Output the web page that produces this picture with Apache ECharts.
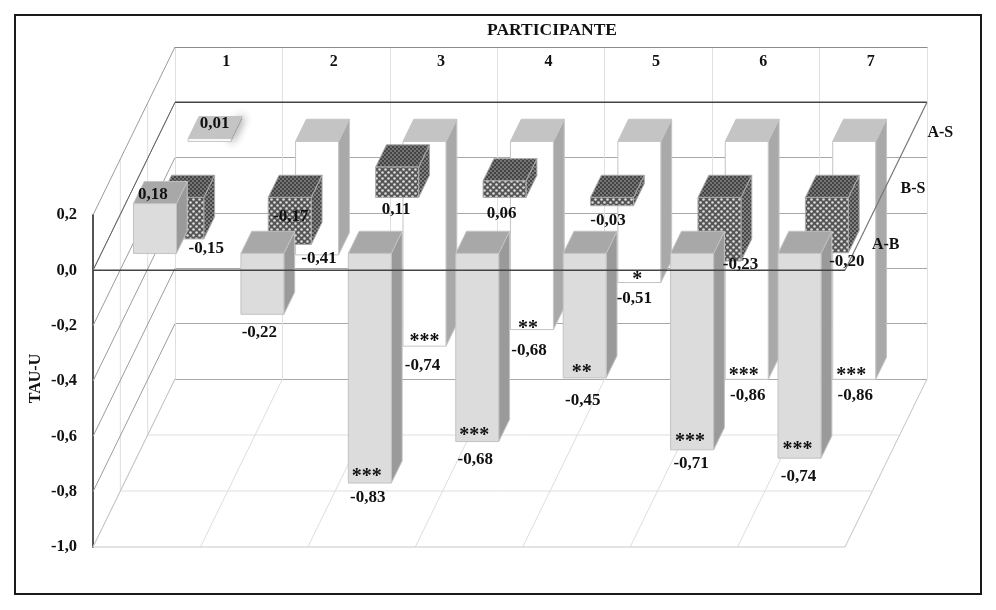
<!DOCTYPE html>
<html><head><meta charset="utf-8">
<script src="https://cdn.jsdelivr.net/npm/echarts@6/dist/echarts.min.js"></script>
<style>html,body{margin:0;padding:0;background:#fff}#c{width:996px;height:610px}</style>
</head><body><div id="c"></div>
<script>
// ---- data ----
const categories = ['1','2','3','4','5','6','7'];
const tickLabels = ['-1,0','-0,8','-0,6','-0,4','-0,2','0,0','0,2'];
const tickValues = [-1,-0.8,-0.6,-0.4,-0.2,0,0.2];
const rowNames = ['A-B','B-S','A-S'];
const valuesAB = [0.18,-0.22,-0.83,-0.68,-0.45,-0.71,-0.74];
const valuesBS = [-0.15,-0.17,0.11,0.06,-0.03,-0.23,-0.20];
const valuesAS = [0.01,-0.41,-0.74,-0.68,-0.51,-0.86,-0.86];
const starsAB = ['','','***','***','**','***','***'];
const starsAS = ['','','***','**','*','***','***'];

// ---- styling / layout ----
const SERIF = '"Liberation Serif","Times New Roman",serif';
const FONT = 'bold 17px ' + SERIF;
const DEPTH_X = 82, DEPTH_Y = 168;        // oblique floor depth
const BAR_W = 0.4, BAR_D = 0.132;         // bar width (bands) and depth (of floor)
const nudgeAB = [[-2,-9],[-3,18],[-2,15],[-2,18],[-2,23],[-1,14],[-1,18]];
const nudgeBS = [[24,10],[1,-28],[-1,43],[-3,33],[-4,15],[21,4],[20,9]];
const nudgeAS = [[5,-15],[2,4],[-2,19],[-3,21],[-5,16],[1,16],[1,16]];
const starNudgeAB = [null,null,[-3,-9],[-3,-9],[-3,-8],[-2,-11],[-2,-11]];
const starNudgeAS = [null,null,[0,-7],[-4,-4],[-2,-6],[-3,-7],[-3,-7]];

function pattern(bg, fg, size, r){
  const c = document.createElement('canvas'); c.width = size; c.height = size;
  const x = c.getContext('2d');
  x.fillStyle = bg; x.fillRect(0,0,size,size);
  x.fillStyle = fg;
  [[size*0.25,size*0.25],[size*0.75,size*0.75]].forEach(p=>{
    x.beginPath(); x.arc(p[0],p[1],r,0,Math.PI*2); x.fill();
  });
  return {image:c, repeat:'repeat'};
}
const stylesAB = {front:'#dcdcdc', top:'#a8a8a8', side:'#9a9a9a', stroke:'#c2c2c2'};
const stylesAS = {front:'#ffffff', top:'#c4c4c4', side:'#a9a9a9', stroke:'#c4c4c4'};
const stylesBS = {front:pattern('#555555','#dcdcdc',6,1.3), top:pattern('#444444','#8c8c8c',4,0.9),
                  side:pattern('#484848','#9a9a9a',4,0.9), stroke:'#aaaaaa'};

// projection: category-edge position k (0..n), value v, depth fraction d (0..1)
function P(api,k,v,d){
  const band = api.size([1,0])[0];
  const o = api.coord([0,v]);
  return [o[0]-band/2+k*band + d*DEPTH_X, o[1]-d*DEPTH_Y];
}
function ln(a,b,color,w){
  return {type:'line',silent:true,shape:{x1:a[0],y1:a[1],x2:b[0],y2:b[1]},style:{stroke:color,lineWidth:w||1}};
}
function renderFrame(params,api){
  const n = categories.length, kids = [];
  const soft = '#dedede', wall = '#9c9c9c';
  for(let k=0;k<=n;k++) kids.push(ln(P(api,k,-1,0),P(api,k,-1,1),k===n?'#c4c4c4':soft));
  [1/3,2/3].forEach(d=>{
    kids.push(ln(P(api,0,-1,d),P(api,n,-1,d),soft));
    kids.push(ln(P(api,0,-1,d),P(api,0,0.2,d),soft));
  });
  kids.push(ln(P(api,0,-1,0),P(api,n,-1,0),'#c8c8c8'));
  tickValues.forEach(v=>{ kids.push(ln(P(api,0,v,0),P(api,0,v,1),v===-1?'#c4c4c4':wall)); });
  kids.push(ln(P(api,0,0,1),P(api,n,0,1),'#444',1.5));
  kids.push(ln(P(api,0,0,0),P(api,0,0,1),'#666'));
  return {type:'group',children:kids};
}
function renderOverlay(params,api){
  const n = categories.length;
  return {type:'group',children:[
    ln(P(api,0,0,0),P(api,n,0,0),'#444',1.5),
    ln(P(api,n,0,0),P(api,n,0,1),'#777',1.2)
  ]};
}
function barRenderer(rowIndex,st){
  return function(params,api){
    const i = api.value(0), v = api.value(1);
    const d0 = (rowIndex+0.5)/3 - BAR_D/2, d1 = d0 + BAR_D;
    const kL = i+0.5-BAR_W/2, kR = i+0.5+BAR_W/2;
    const top = Math.max(v,0), bot = Math.min(v,0);
    const a=P(api,kL,top,d0), b=P(api,kR,top,d0), c=P(api,kR,bot,d0), e=P(api,kL,bot,d0);
    const a2=P(api,kL,top,d1), b2=P(api,kR,top,d1), c2=P(api,kR,bot,d1);
    const thin = Math.abs(v) < 0.02;
    const poly = (pts,fill,extra)=>({type:'polygon',shape:{points:pts},
      style:Object.assign({fill:fill,stroke:st.stroke,lineWidth:1},extra||{})});
    return {type:'group',children:[
      poly([b,c,c2,b2],st.side, thin?{shadowBlur:8,shadowColor:'#333',fill:'#555'}:null),
      poly([a,a2,b2,b],st.top),
      poly([a,b,c,e],st.front)
    ]};
  };
}
function labelRenderer(rowIndex,nudges,stars,starNudges,values){
  return function(params,api){
    const i = api.value(0), v = api.value(1);
    const d0 = (rowIndex+0.5)/3 - BAR_D/2;
    const p = P(api,i+0.5,v,d0);
    const txt = (s,x,y,font)=>({type:'text',style:{text:s,x:x,y:y,font:font,fill:'#111',align:'center',verticalAlign:'middle'}});
    const kids = [txt(values[i].toFixed(2).replace('.',','),p[0]+nudges[i][0],p[1]+nudges[i][1],FONT)];
    if(stars && stars[i]) kids.push(txt(stars[i],p[0]+starNudges[i][0],p[1]+starNudges[i][1]+3,'bold 20px '+SERIF));
    return {type:'group',children:kids};
  };
}
function renderRowNames(params,api){
  const n = categories.length;
  return {type:'group',children:rowNames.map((s,r)=>{
    const p = P(api,n,0,(r+0.5)/3);
    return {type:'text',style:{text:s,x:p[0]+27,y:p[1]+3,font:'bold 16px '+SERIF,fill:'#111',align:'center',verticalAlign:'middle'}};
  })};
}
const rows = arr => arr.map((v,i)=>[i,v]);
const base = {type:'custom',xAxisIndex:0,yAxisIndex:0,encode:{x:0,y:1},silent:true,clip:false};

const option = {
  animation:false,
  backgroundColor:'#fff',
  textStyle:{fontFamily:SERIF},
  title:{text:'PARTICIPANTE',left:552,top:21,padding:0,textAlign:'center',
    textStyle:{fontFamily:SERIF,fontWeight:'bold',fontSize:17.5,color:'#111'}},
  graphic:[{type:'rect',silent:true,shape:{x:15,y:15,width:966,height:579},
    style:{fill:'none',stroke:'#1a1a1a',lineWidth:2}}],
  grid:[
    {left:93,top:215,width:752,height:332},
    {left:175,top:47,width:752,height:332}
  ],
  xAxis:[
    {type:'category',gridIndex:0,data:categories,axisLabel:{show:false},axisTick:{show:false},axisLine:{show:false},splitLine:{show:false}},
    {type:'category',gridIndex:1,data:categories,position:'top',
     axisLine:{show:true,onZero:false,lineStyle:{color:'#8c8c8c',width:1}},axisTick:{show:false},
     axisLabel:{inside:true,margin:7,padding:[0,5,0,0],interval:0,color:'#111',fontFamily:SERIF,fontWeight:'bold',fontSize:16},
     splitLine:{show:true,interval:0,lineStyle:{color:'#e0e0e0',width:1}}}
  ],
  yAxis:[
    {type:'value',gridIndex:0,min:-1,max:0.2,interval:0.2,
     name:'TAU-U',nameLocation:'middle',nameGap:49,nameRotate:90,nameMoveOverlap:false,
     nameTextStyle:{fontFamily:SERIF,fontWeight:'bold',fontSize:16,color:'#111',padding:[0,0,0,5]},
     axisLine:{show:true,lineStyle:{color:'#555',width:2}},axisTick:{show:false},splitLine:{show:false},
     axisLabel:{margin:16,color:'#111',fontFamily:SERIF,fontWeight:'bold',fontSize:16.5,
       formatter:v=>{const i=tickValues.findIndex(t=>Math.abs(t-v)<1e-6);return i<0?'':tickLabels[i];}}},
    {type:'value',gridIndex:1,min:-1,max:0.2,interval:0.2,axisLabel:{show:false},axisTick:{show:false},
     axisLine:{show:false},splitLine:{show:true,lineStyle:{color:'#a8a8a8',width:1}}}
  ],
  series:[
    Object.assign({},base,{name:'frame',z:2,data:[[0,0]],renderItem:renderFrame}),
    Object.assign({},base,{name:'A-S',z:3,data:rows(valuesAS),renderItem:barRenderer(2,stylesAS)}),
    Object.assign({},base,{name:'B-S',z:4,data:rows(valuesBS),renderItem:barRenderer(1,stylesBS)}),
    Object.assign({},base,{name:'A-B',z:5,data:rows(valuesAB),renderItem:barRenderer(0,stylesAB)}),
    Object.assign({},base,{name:'edge',z:6,data:[[0,0]],renderItem:renderOverlay}),
    Object.assign({},base,{name:'labels A-S',z:7,data:rows(valuesAS),renderItem:labelRenderer(2,nudgeAS,starsAS,starNudgeAS,valuesAS)}),
    Object.assign({},base,{name:'labels B-S',z:7,data:rows(valuesBS),renderItem:labelRenderer(1,nudgeBS,null,null,valuesBS)}),
    Object.assign({},base,{name:'labels A-B',z:7,data:rows(valuesAB),renderItem:labelRenderer(0,nudgeAB,starsAB,starNudgeAB,valuesAB)}),
    Object.assign({},base,{name:'rows',z:7,data:[[0,0]],renderItem:renderRowNames})
  ]
};
echarts.init(document.getElementById('c'),null,{renderer:'canvas'}).setOption(option);
</script></body></html>
